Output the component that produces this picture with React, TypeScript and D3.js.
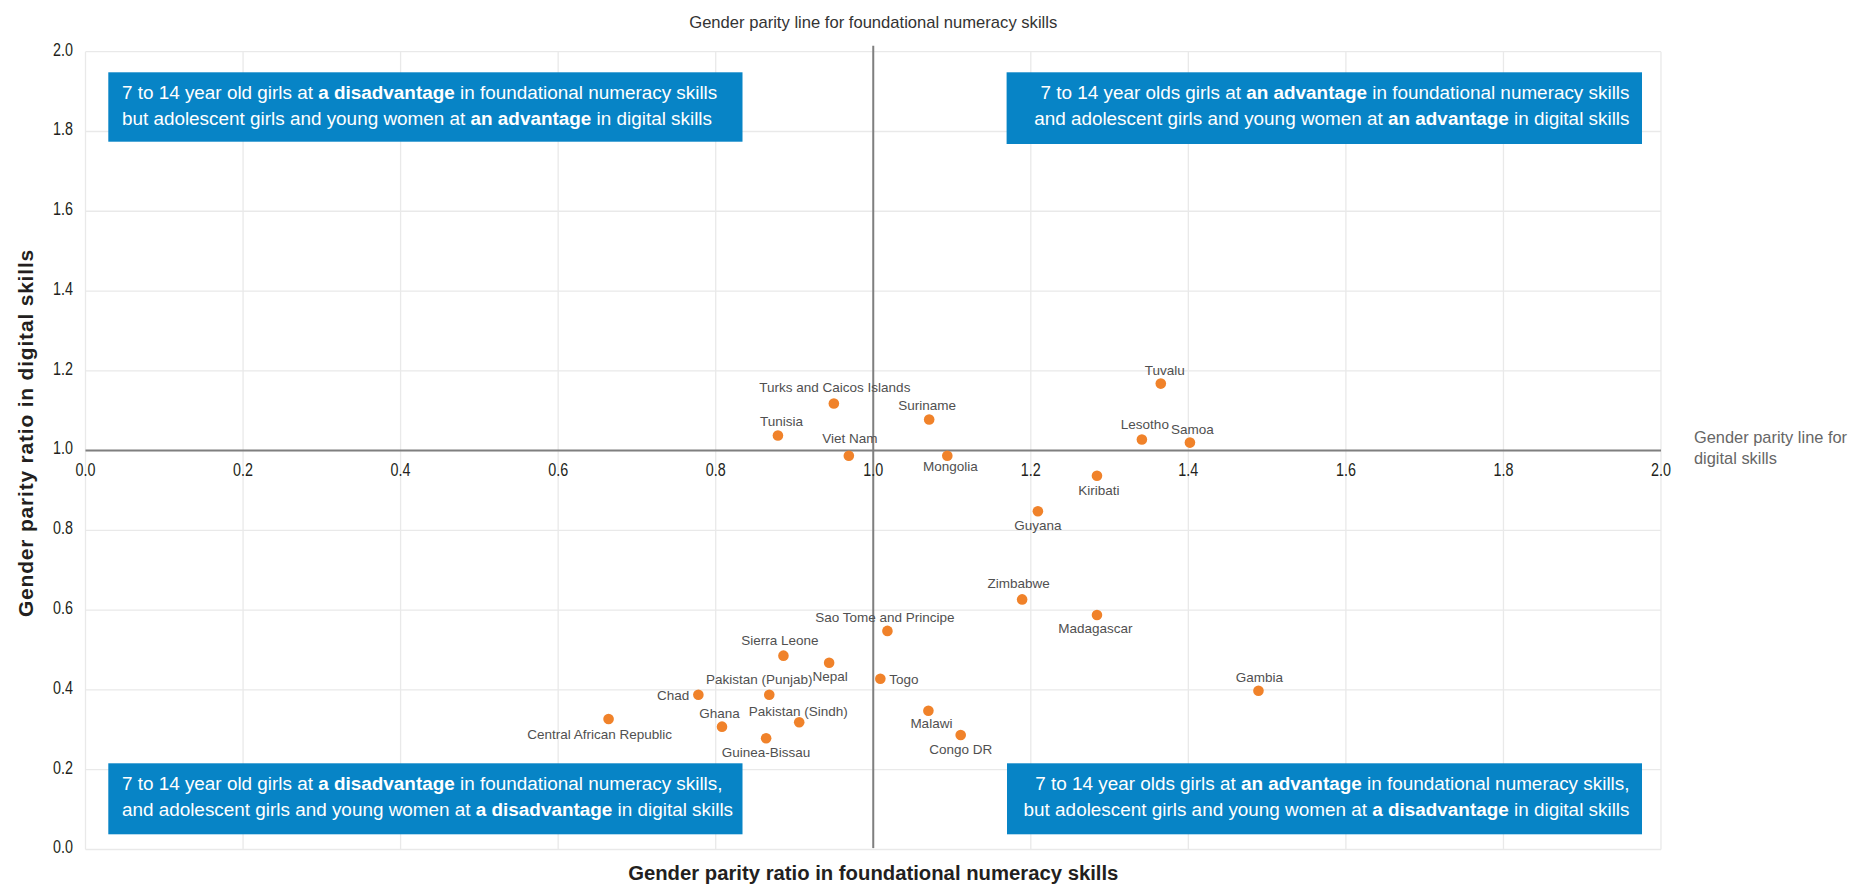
import React from "react";
import * as d3 from "d3";

// ---------- DATA ----------
const countries = [
  "Tuvalu", "Turks and Caicos Islands", "Suriname", "Tunisia", "Lesotho", "Samoa",
  "Viet Nam", "Mongolia", "Kiribati", "Guyana", "Zimbabwe", "Madagascar",
  "Sao Tome and Principe", "Sierra Leone", "Nepal", "Togo", "Gambia", "Chad",
  "Pakistan (Punjab)", "Malawi", "Central African Republic", "Pakistan (Sindh)",
  "Ghana", "Congo DR", "Guinea-Bissau",
];
// Gender parity ratio in foundational numeracy skills (x)
const numeracyGPI = [
  1.365, 0.950, 1.071, 0.879, 1.341, 1.402,
  0.969, 1.094, 1.284, 1.209, 1.189, 1.284,
  1.018, 0.886, 0.944, 1.009, 1.489, 0.778,
  0.868, 1.070, 0.664, 0.906, 0.808, 1.111, 0.864,
];
// Gender parity ratio in digital skills (y)
const digitalGPI = [
  1.168, 1.118, 1.078, 1.038, 1.028, 1.020,
  0.987, 0.987, 0.937, 0.848, 0.627, 0.588,
  0.548, 0.486, 0.468, 0.428, 0.398, 0.388,
  0.388, 0.348, 0.327, 0.319, 0.308, 0.287, 0.279,
];
const xTicks = [0, 0.2, 0.4, 0.6, 0.8, 1.0, 1.2, 1.4, 1.6, 1.8, 2.0];
const yTicks = [0, 0.2, 0.4, 0.6, 0.8, 1.0, 1.2, 1.4, 1.6, 1.8, 2.0];
const xDomain = [0, 2];
const yDomain = [0, 2];
const parity = 1.0;

const xTitle = "Gender parity ratio in foundational numeracy skills";
const yTitle = "Gender parity ratio in digital skills";
const topParityNote = "Gender parity line for foundational numeracy skills";
const rightParityNote = ["Gender parity line for", "digital skills"];

type Seg = [string, boolean];
const noteTopLeft: Seg[][] = [
  [["7 to 14 year old girls at ", false], ["a disadvantage", true], [" in foundational numeracy skills", false]],
  [["but adolescent girls and young women at ", false], ["an advantage", true], [" in digital skills", false]],
];
const noteTopRight: Seg[][] = [
  [["7 to 14 year olds girls at ", false], ["an advantage", true], [" in foundational numeracy skills", false]],
  [["and adolescent girls and young women at ", false], ["an advantage", true], [" in digital skills", false]],
];
const noteBottomLeft: Seg[][] = [
  [["7 to 14 year old girls at ", false], ["a disadvantage", true], [" in foundational numeracy skills,", false]],
  [["and adolescent girls and young women at ", false], ["a disadvantage", true], [" in digital skills", false]],
];
const noteBottomRight: Seg[][] = [
  [["7 to 14 year olds girls at ", false], ["an advantage", true], [" in foundational numeracy skills,", false]],
  [["but adolescent girls and young women at ", false], ["a disadvantage", true], [" in digital skills", false]],
];

// ---------- LAYOUT / STYLE ----------
const W = 1853;
const H = 886;
const PLOT = { left: 85.5, right: 1661, top: 51.7, bottom: 849.5 };
const FONT = "'Liberation Sans', Arial, Helvetica, sans-serif";
const BLUE = "#0784c6";
const ORANGE = "#f0822a";
const GRID = "#e9e9e9";
const PARITY_LINE = "#7f7f7f";
const LABEL_COLOR = "#505050";

// label offsets (dx, dy, anchor) relative to each dot
const labelPlacement: Record<string, [number, number, "start" | "middle" | "end"]> = {
  "Tuvalu": [4, -9, "middle"],
  "Turks and Caicos Islands": [1, -11.5, "middle"],
  "Suriname": [-2, -9.5, "middle"],
  "Tunisia": [3.5, -9, "middle"],
  "Lesotho": [3, -10, "middle"],
  "Samoa": [2.5, -9, "middle"],
  "Viet Nam": [1, -13, "middle"],
  "Mongolia": [3, 15.5, "middle"],
  "Kiribati": [2, 19, "middle"],
  "Guyana": [0, 18.5, "middle"],
  "Zimbabwe": [-3.5, -11, "middle"],
  "Madagascar": [-1.5, 18, "middle"],
  "Sao Tome and Principe": [-2.5, -8.5, "middle"],
  "Sierra Leone": [-3.5, -11, "middle"],
  "Nepal": [1, 18.5, "middle"],
  "Togo": [9, 5, "start"],
  "Gambia": [1, -9, "middle"],
  "Chad": [-9, 5, "end"],
  "Pakistan (Punjab)": [-10, -11, "middle"],
  "Malawi": [3, 17.5, "middle"],
  "Central African Republic": [-9, 20, "middle"],
  "Pakistan (Sindh)": [-1, -6.5, "middle"],
  "Ghana": [-2.5, -9, "middle"],
  "Congo DR": [0, 18.5, "middle"],
  "Guinea-Bissau": [0, 18.5, "middle"],
};

type Box = { x0: number; x1: number; y0: number; y1: number; align: "start" | "end"; lines: Seg[][] };
const boxes: Box[] = [
  { x0: 108.3, x1: 742.5, y0: 72.3, y1: 141.7, align: "start", lines: noteTopLeft },
  { x0: 1006.6, x1: 1642, y0: 72.3, y1: 144, align: "end", lines: noteTopRight },
  { x0: 108.3, x1: 742.5, y0: 763.3, y1: 834.3, align: "start", lines: noteBottomLeft },
  { x0: 1007, x1: 1642, y0: 763.3, y1: 834.3, align: "end", lines: noteBottomRight },
];

export default function App() {
  const x = d3.scaleLinear().domain(xDomain).range([PLOT.left, PLOT.right]);
  const y = d3.scaleLinear().domain(yDomain).range([PLOT.bottom, PLOT.top]);
  const fmt = d3.format(".1f");

  const points = countries.map((c, i) => ({ name: c, gx: numeracyGPI[i], gy: digitalGPI[i] }));

  return (
    <svg
      width={W}
      height={H}
      style={{ position: "absolute", left: 0, top: 0, background: "#fff" }}
      fontFamily={FONT}
    >
      {/* grid */}
      <g>
        {xTicks.map((t) => (
          <line key={"gx" + t} x1={x(t)} x2={x(t)} y1={y(yDomain[0])} y2={y(yDomain[1])} stroke={GRID} strokeWidth={1.3} />
        ))}
        {yTicks.map((t) => (
          <line key={"gy" + t} x1={x(xDomain[0])} x2={x(xDomain[1])} y1={y(t)} y2={y(t)} stroke={GRID} strokeWidth={1.3} />
        ))}
      </g>

      {/* y tick labels */}
      <g fill="#231f20" fontSize={17.5}>
        {yTicks.map((t) => (
          <text key={"yl" + t} transform={`translate(${x(xDomain[0]) - 12.5},${y(t) + 3.8}) scale(0.82,1)`} textAnchor="end">
            {fmt(t)}
          </text>
        ))}
      </g>

      {/* parity lines */}
      <line x1={x(parity)} x2={x(parity)} y1={y(yDomain[1]) - 6} y2={y(yDomain[0]) - 1.5} stroke={PARITY_LINE} strokeWidth={2} />
      <line x1={x(xDomain[0])} x2={x(xDomain[1])} y1={y(parity)} y2={y(parity)} stroke={PARITY_LINE} strokeWidth={2} />

      {/* x tick labels along parity line */}
      <g fill="#231f20" fontSize={17.5}>
        {xTicks.map((t) => (
          <text key={"xl" + t} transform={`translate(${x(t)},${y(parity) + 25}) scale(0.82,1)`} textAnchor="middle">
            {fmt(t)}
          </text>
        ))}
      </g>

      {/* parity notes */}
      <text x={x(parity)} y={27.5} textAnchor="middle" fontSize={16.6} fill="#333">
        {topParityNote}
      </text>
      <text x={x(xDomain[1]) + 33} y={y(parity) - 7.5} fontSize={16.4} fill="#666">
        <tspan x={x(xDomain[1]) + 33}>{rightParityNote[0]}</tspan>
        <tspan x={x(xDomain[1]) + 33} dy={21}>{rightParityNote[1]}</tspan>
      </text>

      {/* quadrant boxes */}
      {boxes.map((b, bi) => (
        <g key={"box" + bi}>
          <rect x={b.x0} y={b.y0} width={b.x1 - b.x0} height={b.y1 - b.y0} fill={BLUE} />
          {b.lines.map((ln, li) => (
            <text
              key={li}
              x={b.align === "start" ? b.x0 + 13.6 : b.x1 - 12.5}
              y={b.y0 + 26.5 + li * 26}
              textAnchor={b.align}
              fontSize={18.9}
              fill="#fff"
            >
              {ln.map((s, si) => (
                <tspan key={si} fontWeight={s[1] ? "bold" : "normal"}>{s[0]}</tspan>
              ))}
            </text>
          ))}
        </g>
      ))}

      {/* points */}
      <g>
        {points.map((p) => (
          <circle key={p.name} cx={x(p.gx)} cy={y(p.gy)} r={5.3} fill={ORANGE} />
        ))}
      </g>
      <g fontSize={13.5} fill={LABEL_COLOR}>
        {points.map((p) => {
          const [dx, dy, anchor] = labelPlacement[p.name];
          return (
            <text key={"l" + p.name} x={x(p.gx) + dx} y={y(p.gy) + dy} textAnchor={anchor}>
              {p.name}
            </text>
          );
        })}
      </g>

      {/* axis titles */}
      <text x={(PLOT.left + PLOT.right) / 2} y={880} textAnchor="middle" fontSize={20.3} fontWeight="bold" fill="#231f20">
        {xTitle}
      </text>
      <text
        transform={`translate(33,433) rotate(-90)`}
        textAnchor="middle"
        fontSize={21}
        fontWeight="bold"
        letterSpacing={0.8}
        fill="#231f20"
      >
        {yTitle}
      </text>
    </svg>
  );
}
